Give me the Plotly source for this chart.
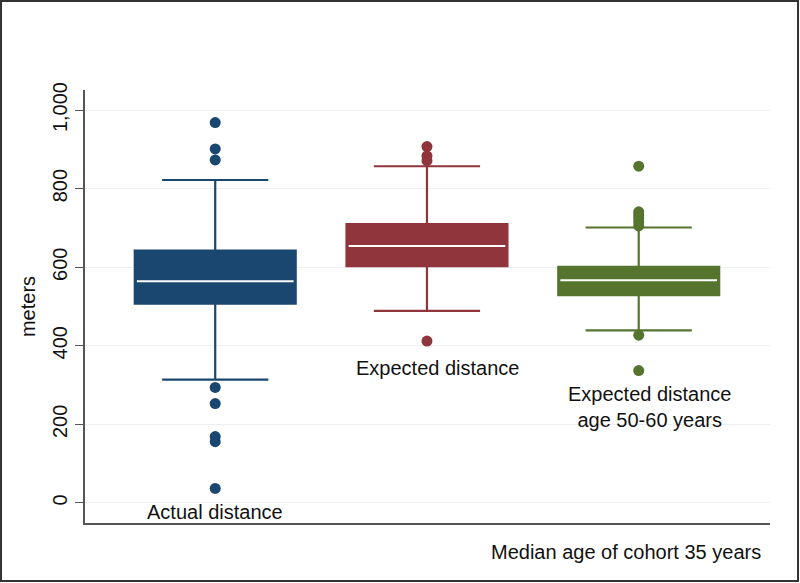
import plotly.graph_objects as go

categories = ["Actual distance", "Expected distance", "Expected distance<br>age 50-60 years"]
q1 = [507, 603, 529]
median = [564, 654, 567]
q3 = [642, 710, 601]
lower_whisker = [314, 489, 439]
upper_whisker = [822, 857, 701]
outliers = [
    [968, 901, 873, 294, 253, 169, 156, 37],
    [907, 883, 871, 412],
    [857, 741, 733, 725, 716, 705, 427, 337],
]
colors = ["#1a476f", "#90353b", "#55752f"]
y_ticks = [0, 200, 400, 600, 800, 1000]

FONT = "Liberation Sans, Arial, sans-serif"
FS = 20
BOX_W = 0.76

fig = go.Figure()
for i, name in enumerate(categories):
    fig.add_trace(go.Box(
        x=[i], q1=[q1[i]], median=[median[i]], q3=[q3[i]],
        lowerfence=[lower_whisker[i]], upperfence=[upper_whisker[i]],
        width=BOX_W, whiskerwidth=0.66,
        line=dict(color=colors[i], width=2.2),
        fillcolor=colors[i], boxpoints=False, showlegend=False, name=name,
    ))
    fig.add_trace(go.Scatter(
        x=[i - BOX_W / 2 + 0.01, i + BOX_W / 2 - 0.01], y=[median[i], median[i]],
        mode="lines", line=dict(color="white", width=2), showlegend=False, hoverinfo="skip",
    ))
    fig.add_trace(go.Scatter(
        x=[i] * len(outliers[i]), y=outliers[i], mode="markers",
        marker=dict(color=colors[i], size=11), showlegend=False,
    ))

label_y = [-23, 343, 244]
for i, name in enumerate(categories):
    fig.add_annotation(x=i + (0.05 if i > 0 else 0), y=label_y[i], text=name, showarrow=False,
                       font=dict(family=FONT, size=FS, color="#111"), xanchor="center",
                       yanchor="middle")

fig.add_annotation(xref="paper", yref="paper", x=0.99, y=-0.067, text="Median age of cohort 35 years",
                   showarrow=False, xanchor="right", yanchor="middle",
                   font=dict(family=FONT, size=FS, color="#111"))

fig.add_shape(type="rect", xref="paper", yref="paper", x0=-0.1226, x1=1.0409, y0=-0.134, y1=1.2055,
              line=dict(color="#333", width=2), fillcolor="rgba(0,0,0,0)", layer="below")

fig.update_layout(
    width=800, height=583,
    margin=dict(l=85, r=30, t=90, b=60),
    paper_bgcolor="white", plot_bgcolor="white",
    font=dict(family=FONT, size=FS, color="#111"),
    xaxis=dict(range=[-0.615, 2.62], showticklabels=False, ticks="", showgrid=False,
               zeroline=False, showline=True, linecolor="#555", linewidth=1.5, automargin=False),
    yaxis=dict(range=[-51, 1051], tickvals=y_ticks, tickformat=",", tickangle=-90,
               ticks="outside", ticklen=8, tickcolor="#555", showline=True, linecolor="#555",
               linewidth=1.5, gridcolor="#eceff1", zeroline=False, automargin=False,
               title=dict(text="meters", standoff=8, font=dict(size=FS)),
               tickfont=dict(size=FS)),
)

fig.write_html("out.html", config={"displayModeBar": False},
               post_script="document.body.style.margin='0px';document.body.style.overflow='hidden';")
